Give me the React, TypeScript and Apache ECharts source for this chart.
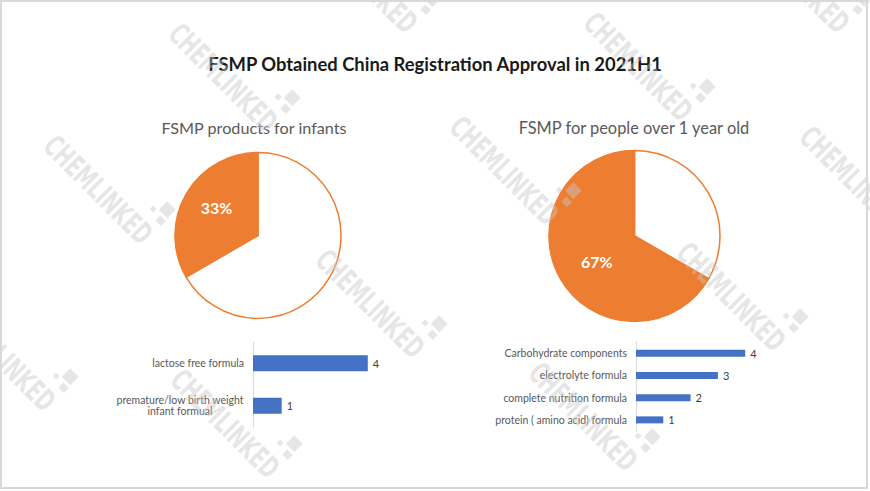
import React, { useEffect, useRef } from "react";
import * as echarts from "echarts";

const mainTitle = "FSMP Obtained China Registration Approval in 2021H1";
const pieTitles = ["FSMP products for infants", "FSMP for people over 1 year old"];

// pie slices: [other group (white), this group (orange)]
const pieNames = ["other", "this group"];
const leftPieValues = [10, 5];
const rightPieValues = [5, 10];

const infantCategories = ["lactose free formula", "premature/low birth weight\ninfant formual"];
const infantValues = [4, 1];

const over1Categories = [
  "Carbohydrate components",
  "electrolyte formula",
  "complete nutrition formula",
  "protein ( amino acid) formula",
];
const over1Values = [4, 3, 2, 1];

const ORANGE = "#ED7D31";
const BLUE = "#4472C4";
const LABEL_GRAY = "#595959";

// watermark centres (decoration)
const watermarkSpots = [
  [223, 78], [98, 190], [638, 67], [504, 171], [854, 181], [795, -21],
  [363, -21], [370, 304], [731, 297], [1, 357], [225, 424], [583, 417],
];

export default function App() {
  const ref = useRef<HTMLDivElement>(null);
  useEffect(() => {
    if (!ref.current) return;
    const chart = echarts.init(ref.current, null, { renderer: "svg" });

    const wmFill = "rgba(200,200,200,0.45)";
    const watermarks = watermarkSpots.map(([x, y]) => ({
      type: "group",
      x,
      y,
      rotation: -Math.PI / 4,
      silent: true,
      z: 100,
      children: [
        {
          type: "text",
          z: 100,
          scaleX: 0.63,
          style: {
            text: "CHEMLINKED",
            x: 0,
            y: 0,
            align: "center",
            verticalAlign: "middle",
            fontSize: 30,
            fontWeight: "bold",
            fontFamily: "'DejaVu Sans', sans-serif",
            fill: wmFill,
          },
        },
        { type: "rect", z: 100, shape: { x: 57, y: -41, width: 12, height: 12 }, style: { fill: wmFill } },
        { type: "rect", z: 100, shape: { x: 62, y: -26, width: 8, height: 7 }, style: { fill: wmFill } },
        { type: "rect", z: 100, shape: { x: 50, y: -28, width: 5, height: 5 }, style: { fill: wmFill } },
      ],
    }));

    const pieLabel = {
      show: true,
      position: "inside",
      color: "#ffffff",
      fontSize: 16,
      fontWeight: "bold",
      fontFamily: "Lato, 'Noto Sans', sans-serif",
      formatter: (p: any) => Math.round(p.percent) + "%",
    };

    const makePieData = (vals: number[]) =>
      vals.map((v, i) => ({
        name: pieNames[i],
        value: v,
        itemStyle: { color: i === 0 ? "#ffffff" : ORANGE },
        label: i === 0 ? { show: false } : { ...pieLabel },
      }));

    const catAxisBase = {
      type: "category",
      inverse: true,
      axisLine: { show: true, lineStyle: { color: "#d9d9d9", width: 1 } },
      axisTick: { show: false },
      splitLine: { show: false },
    };

    const option: any = {
      animation: false,
      backgroundColor: "#ffffff",
      title: [
        {
          text: mainTitle,
          left: 435,
          top: 55,
          textAlign: "center",
          padding: 0,
          textStyle: { fontSize: 18.4, fontWeight: "bold", color: "#1a1a1a", fontFamily: "Lato, 'Noto Sans', sans-serif" },
        },
        {
          text: pieTitles[0],
          left: 254,
          top: 119,
          textAlign: "center",
          padding: 0,
          textStyle: { fontSize: 16.2, fontWeight: "normal", color: LABEL_GRAY, fontFamily: "Lato, 'Noto Sans', sans-serif" },
        },
        {
          text: pieTitles[1],
          left: 634,
          top: 119,
          textAlign: "center",
          padding: 0,
          textStyle: { fontSize: 16.4, fontWeight: "normal", color: LABEL_GRAY, fontFamily: "Lato, 'Noto Sans', sans-serif" },
        },
      ],
      grid: [
        { left: 253, top: 342, width: 143.5, height: 85 },
        { left: 636, top: 342, width: 136.5, height: 89 },
      ],
      xAxis: [
        { type: "value", gridIndex: 0, min: 0, max: 5, show: false },
        { type: "value", gridIndex: 1, min: 0, max: 5, show: false },
      ],
      yAxis: [
        {
          ...catAxisBase,
          gridIndex: 0,
          data: infantCategories,
          axisLabel: {
            margin: 9,
            color: LABEL_GRAY,
            fontSize: 10.5,
            fontFamily: "Lato, 'Noto Sans', sans-serif",
            lineHeight: 11,
            formatter: (v: string) =>
              v.indexOf("\n") < 0 ? v : v.split("\n").map((l) => "{c|" + l + "}").join("\n"),
            rich: {
              c: {
                width: 128,
                align: "center",
                color: LABEL_GRAY,
                fontSize: 10.5,
                lineHeight: 11,
                fontFamily: "Lato, 'Noto Sans', sans-serif",
              },
            },
          },
        },
        {
          ...catAxisBase,
          gridIndex: 1,
          data: over1Categories,
          axisLabel: {
            margin: 9,
            color: LABEL_GRAY,
            fontSize: 10.5,
            fontFamily: "Lato, 'Noto Sans', sans-serif",
          },
        },
      ],
      series: [
        {
          type: "pie",
          silent: true,
          center: [258, 235.5],
          radius: 83,
          startAngle: 90,
          clockwise: true,
          labelLine: { show: false },
          labelLayout: { dx: -3, dy: -6 },
          itemStyle: { borderColor: ORANGE, borderWidth: 1.5 },
          data: makePieData(leftPieValues),
        },
        {
          type: "pie",
          silent: true,
          center: [634.5, 236],
          radius: 85.5,
          startAngle: 90,
          clockwise: true,
          labelLine: { show: false },
          labelLayout: { dx: 2, dy: 3 },
          itemStyle: { borderColor: ORANGE, borderWidth: 1.5 },
          data: makePieData(rightPieValues),
        },
        {
          type: "bar",
          silent: true,
          xAxisIndex: 0,
          yAxisIndex: 0,
          barWidth: 16,
          itemStyle: { color: BLUE },
          label: {
            show: true,
            position: "right",
            distance: 5,
            color: "#404040",
            fontSize: 11,
            fontFamily: "Lato, 'Noto Sans', sans-serif",
          },
          data: infantValues,
        },
        {
          type: "bar",
          silent: true,
          xAxisIndex: 1,
          yAxisIndex: 1,
          barWidth: 7,
          itemStyle: { color: BLUE },
          label: {
            show: true,
            position: "right",
            distance: 5,
            color: "#404040",
            fontSize: 11,
            fontFamily: "Lato, 'Noto Sans', sans-serif",
          },
          data: over1Values,
        },
      ],
      graphic: [
        {
          type: "rect",
          silent: true,
          z: 101,
          shape: { x: 1, y: 1, width: 866, height: 487 },
          style: { fill: "none", stroke: "#d9d9d9", lineWidth: 2 },
        },
        ...watermarks,
      ],
    };

    chart.setOption(option);
    return () => chart.dispose();
  }, []);

  return (
    <div
      ref={ref}
      style={{ position: "fixed", left: 0, top: 0, width: 870, height: 491, background: "#ffffff" }}
    />
  );
}
